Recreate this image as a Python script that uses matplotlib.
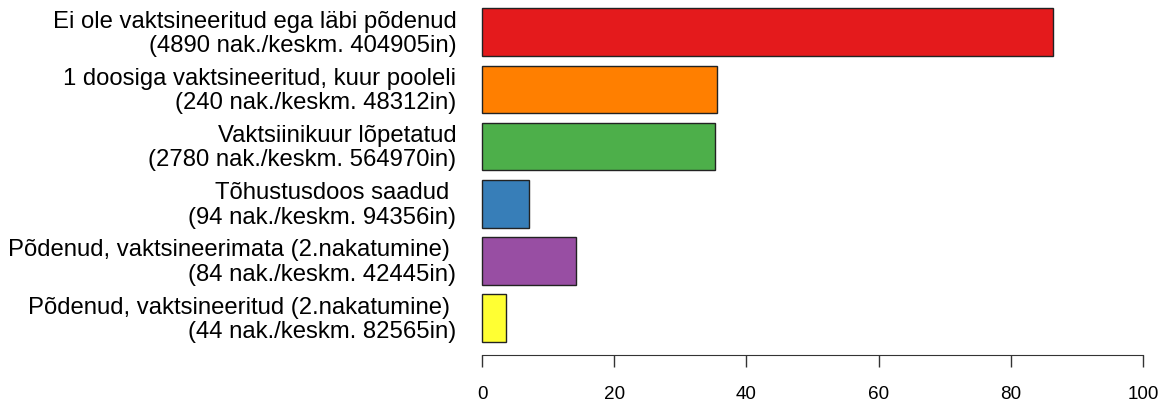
"""
Horizontal bar chart of infection share per vaccination group
"""

import matplotlib
matplotlib.use('Agg')
import matplotlib.pyplot as plt
import matplotlib.transforms as mtransforms
import numpy as np

# groups, top to bottom
groups = [
    'Ei ole vaktsineeritud ega läbi põdenud',
    '1 doosiga vaktsineeritud, kuur pooleli',
    'Vaktsiinikuur lõpetatud',
    'Tõhustusdoos saadud ',
    'Põdenud, vaktsineerimata (2.nakatumine) ',
    'Põdenud, vaktsineeritud (2.nakatumine) ',
]
cases = [4890, 240, 2780, 94, 84, 44]
avg_pop = [404905, 48312, 564970, 94356, 42445, 82565]
values = [86.4, 35.5, 35.2, 7.1, 14.2, 3.7]
colors = ['#E41A1C', '#FF7F00', '#4DAF4A', '#377EB8', '#984EA3', '#FFFF33']
xticks = [0, 20, 40, 60, 80, 100]

plt.rcParams['font.family'] = ['Liberation Sans', 'DejaVu Sans']

W, H = 1163, 405
fig = plt.figure(figsize=(W / 100, H / 100), dpi=100)

# axes box in pixels: x 482..1143, y 8..342 (from top)
left, right, top, bottom = 482, 1143, 8.3, 342
ax = fig.add_axes([left / W, 1 - bottom / H, (right - left) / W, (bottom - top) / H])

# spines first: moving a spine resets tick label styling
for s in ['top', 'right', 'left']:
    ax.spines[s].set_visible(False)
ax.spines['bottom'].set_position(('outward', 9.6))
ax.spines['bottom'].set_color('#333333')

pos = np.arange(len(groups)) * 1.2
ax.barh(pos, values, height=1.0, color=colors, edgecolor='#222222',
        linewidth=1.0, clip_on=False)

ax.set_xlim(0, 100)
ax.set_ylim(pos[-1] + 0.5, pos[0] - 0.5)
ax.spines['bottom'].set_bounds(0, 100)

labels = [f'{g}\n({c} nak./keskm. {p}in)' for g, c, p in zip(groups, cases, avg_pop)]
ax.set_yticks(pos)
ax.set_yticklabels(labels, fontsize=17.2, linespacing=1.14)
ax.tick_params(axis='y', length=0, pad=18.5)

# labels sit a touch above the bar centres in the original
shift = mtransforms.ScaledTranslation(0, 2 / 100, fig.dpi_scale_trans)
for lab in ax.get_yticklabels():
    lab.set_transform(lab.get_transform() + shift)

ax.set_xticks(xticks)
ax.set_xticklabels([str(t) for t in xticks], fontsize=13.6)
ax.tick_params(axis='x', length=8.8, width=1.0, color='#333333', pad=13.5)

fig.savefig('out.png', dpi=100)
